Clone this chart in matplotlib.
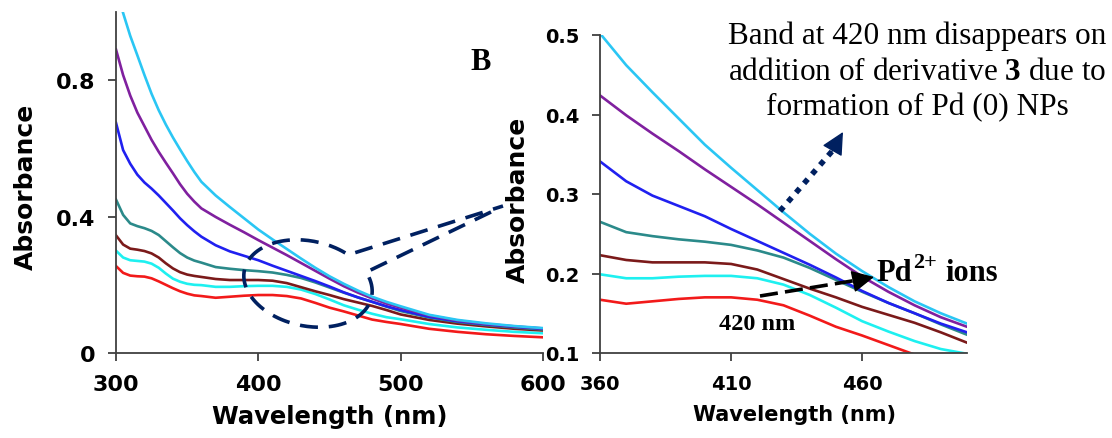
import numpy as np
import matplotlib
matplotlib.use("Agg")
import matplotlib.pyplot as plt

plt.rcParams['mathtext.fontset'] = 'custom'
plt.rcParams['mathtext.rm'] = 'Liberation Serif'
plt.rcParams['mathtext.bf'] = 'Liberation Serif:bold'

# wavelengths (nm) and absorbance
wl = [300, 305, 310, 315, 320, 325, 330, 335, 340, 345, 350, 355, 360, 370, 380, 390, 400, 410,
      420, 430, 440, 450, 460, 470, 480, 490, 500, 520, 540, 560, 580, 600]

red = [0.255, 0.235, 0.227, 0.225, 0.224, 0.219, 0.21, 0.2, 0.19, 0.181, 0.174, 0.169, 0.167,
       0.162, 0.165, 0.168, 0.17, 0.17, 0.167, 0.16, 0.147, 0.133, 0.122, 0.11, 0.098, 0.091,
       0.085, 0.071, 0.062, 0.055, 0.05, 0.046]
cyan = [0.30, 0.28, 0.272, 0.27, 0.268, 0.262, 0.25, 0.233, 0.218, 0.209, 0.203, 0.2, 0.199,
        0.194, 0.194, 0.196, 0.197, 0.197, 0.194, 0.186, 0.173, 0.157, 0.14, 0.127, 0.115, 0.105,
        0.099, 0.085, 0.075, 0.068, 0.062, 0.058]
dkred = [0.345, 0.318, 0.306, 0.303, 0.299, 0.292, 0.28, 0.263, 0.248, 0.237, 0.23, 0.226, 0.223,
         0.217, 0.214, 0.214, 0.214, 0.212, 0.205, 0.193, 0.181, 0.17, 0.158, 0.148, 0.138, 0.126,
         0.113, 0.097, 0.086, 0.078, 0.071, 0.066]
teal = [0.45, 0.405, 0.38, 0.372, 0.366, 0.358, 0.346, 0.328, 0.31, 0.293, 0.28, 0.271, 0.265,
        0.252, 0.247, 0.243, 0.24, 0.236, 0.229, 0.22, 0.207, 0.192, 0.177, 0.163, 0.15, 0.136,
        0.123, 0.104, 0.091, 0.082, 0.075, 0.069]
blue = [0.675, 0.595, 0.555, 0.523, 0.5, 0.482, 0.462, 0.44, 0.418, 0.395, 0.375, 0.357, 0.341,
        0.316, 0.298, 0.285, 0.272, 0.256, 0.241, 0.226, 0.211, 0.195, 0.178, 0.163, 0.15, 0.137,
        0.126, 0.106, 0.093, 0.084, 0.077, 0.071]
purple = [0.89, 0.815, 0.755, 0.705, 0.665, 0.625, 0.59, 0.558, 0.527, 0.495, 0.467, 0.444, 0.424,
          0.399, 0.376, 0.354, 0.331, 0.309, 0.287, 0.264, 0.241, 0.218, 0.196, 0.177, 0.16, 0.145,
          0.133, 0.11, 0.095, 0.085, 0.078, 0.072]
sky = [1.07, 0.997, 0.93, 0.873, 0.815, 0.76, 0.712, 0.67, 0.632, 0.597, 0.563, 0.531, 0.502,
       0.462, 0.428, 0.395, 0.362, 0.333, 0.305, 0.277, 0.25, 0.225, 0.203, 0.183, 0.165, 0.15,
       0.137, 0.112, 0.097, 0.087, 0.079, 0.073]

series = [(red, '#F21A1A'), (cyan, '#1EF0F0'), (dkred, '#7B1A1A'), (teal, '#2B8A8A'),
          (blue, '#2020F0'), (purple, '#80209F'), (sky, '#2AC6F4')]

left_xticks = [300, 400, 500, 600]
left_yticks = [0, 0.4, 0.8]
left_yticklabels = ['0', '0.4', '0.8']
right_xticks = [360, 410, 460]
right_yticks = [0.1, 0.2, 0.3, 0.4, 0.5]
right_yticklabels = ['0.1', '0.2', '0.3', '0.4', '0.5']

W, H = 1112, 439
fig = plt.figure(figsize=(W / 100, H / 100), dpi=100)
ax1 = fig.add_axes([116 / W, 85 / H, 427 / W, 341 / H])
ax2 = fig.add_axes([600 / W, 85 / H, 367 / W, 318 / H])

sans = 'DejaVu Sans'
serif = 'Liberation Serif'
spine_col = '#404040'

for ax in (ax1, ax2):
    for vals, col in series:
        ax.plot(wl, vals, color=col, lw=1.9, solid_joinstyle='round')
    ax.spines['top'].set_visible(False)
    ax.spines['right'].set_visible(False)
    for s in ('left', 'bottom'):
        ax.spines[s].set_color(spine_col)
        ax.spines[s].set_linewidth(1.3)
    ax.tick_params(direction='out', length=6, width=1.3, color=spine_col, pad=9)

ax1.set_xlim(300, 600)
ax1.set_ylim(0, 1.0)
ax1.set_xticks(left_xticks)
ax1.set_xticklabels([str(v) for v in left_xticks], fontsize=16, fontweight='bold', family=sans)
ax1.set_yticks(left_yticks)
ax1.set_yticklabels(left_yticklabels, fontsize=16, fontweight='bold', family=sans)
ax1.set_xlabel('Wavelength (nm)', fontsize=17.5, fontweight='bold', family=sans)
ax1.set_ylabel('Absorbance', fontsize=18, fontweight='bold', family=sans)
ax1.xaxis.set_label_coords(0.5, -0.15)
ax1.yaxis.set_label_coords((38 - 116) / 427, 0.49)

ax2.set_xlim(360, 500)
ax2.set_ylim(0.1, 0.5)
ax2.set_xticks(right_xticks)
ax2.set_xticklabels([str(v) for v in right_xticks], fontsize=14, fontweight='bold', family=sans)
ax2.set_yticks(right_yticks)
ax2.set_yticklabels(right_yticklabels, fontsize=14, fontweight='bold', family=sans)
ax2.set_xlabel('Wavelength (nm)', fontsize=15, fontweight='bold', family=sans)
ax2.set_ylabel('Absorbance', fontsize=18, fontweight='bold', family=sans)
ax2.xaxis.set_label_coords(0.53, -0.16)
ax2.yaxis.set_label_coords((530 - 600) / 367, 0.485)

# overlay in pixel coordinates for the annotations
ov = fig.add_axes([0, 0, 1, 1], zorder=5)
ov.set_xlim(0, W)
ov.set_ylim(H, 0)
ov.axis('off')
ov.patch.set_alpha(0)

navy = '#002060'

ov.text(481, 62, 'B', ha='center', va='center', fontsize=22, fontweight='bold', family=serif)

ov.text(917, 72, 'Band at 420 nm disappears on\naddition of derivative $\\mathbf{3}$ due to\n'
        'formation of Pd (0) NPs', ha='center', va='center', fontsize=22.5, family=serif,
        linespacing=1.3)
ov.text(876, 281, 'Pd', ha='left', va='baseline', fontsize=22, fontweight='bold', family=serif)
ov.text(913, 268, '2+', ha='left', va='baseline', fontsize=16, fontweight='bold', family=serif)
ov.text(945, 281, 'ions', ha='left', va='baseline', fontsize=22, fontweight='bold', family=serif)
ov.text(757, 325, '420 nm', ha='center', va='center', fontsize=17.5, fontweight='bold', family=serif)

# dotted arrow
ov.plot([780, 834], [212, 150], ls=(0, (1, 1.2)), lw=4, color=navy, solid_capstyle='butt')
ov.annotate('', xy=(843, 133), xytext=(831, 154),
            arrowprops=dict(arrowstyle='-|>,head_length=0.7,head_width=0.35', color=navy,
                            lw=1, mutation_scale=20, shrinkA=0, shrinkB=0))

# dashed arrow to Pd2+ ions
ov.plot([760, 858], [297, 281], ls=(0, (5, 2)), lw=2.6, color='black')
ov.annotate('', xy=(874, 278), xytext=(855, 282),
            arrowprops=dict(arrowstyle='-|>,head_length=0.7,head_width=0.35', color='black',
                            lw=1, mutation_scale=20, shrinkA=0, shrinkB=0))

# dashed callout ellipse with tail
cx, cy, a, b, phi = 308, 284.5, 65, 42.5, np.radians(12)
t = np.radians(np.linspace(-33, 301, 200))
ex = cx + a * np.cos(t) * np.cos(phi) - b * np.sin(t) * np.sin(phi)
ey = cy + a * np.cos(t) * np.sin(phi) + b * np.sin(t) * np.cos(phi)
tip = (503, 207)
px = np.concatenate([[tip[0] - 12], ex, [tip[0]]])
py = np.concatenate([[tip[1] + 6], ey, [tip[1]]])
ov.plot(px, py, ls=(0, (5, 3)), lw=2.6, color=navy)

fig.savefig('out.png', dpi=100)
